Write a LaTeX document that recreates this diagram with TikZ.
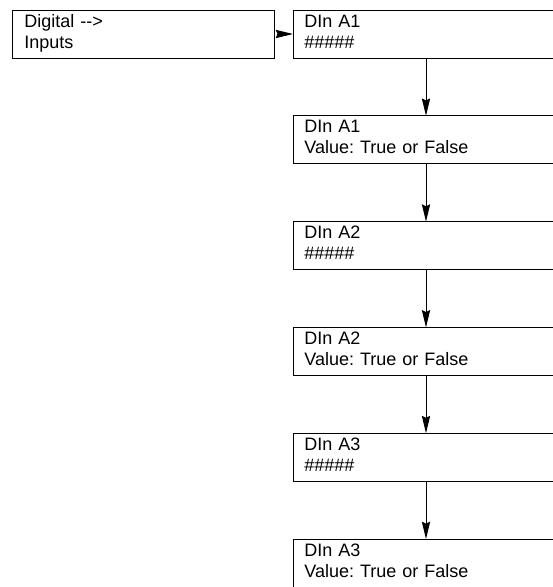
\documentclass[tikz,border=0pt]{standalone}
\usepackage{fontspec}
\setmainfont{Liberation Sans}
\usetikzlibrary{positioning, arrows.meta}
\frenchspacing

\tikzset{
        screen/.style={draw, rectangle, line width=0.75pt, align=left, outer sep=0pt,
                inner xsep=8.5pt, inner ysep=0pt, text width=178pt,
                text height=12.75pt, text depth=23.25pt,
                font=\fontsize{13.5pt}{15.75pt}\selectfont},
        wide/.style={text width=182.5pt},
        narrow/.style={minimum width=196.5pt}
}

\begin{document}
\begin{tikzpicture}[node distance=43.35pt, line width=0.75pt,
                >={Stealth[length=13pt, width=6.2pt, inset=1.5pt]}]
        \useasboundingbox (0,0) rectangle (414.75pt,-440.25pt);
        \node[screen, narrow, anchor=north west] (menu) at (9pt,-7.5pt) {Digital -{}-{}>\\Inputs};
        \node[screen, wide] (a1) [right=14.25pt of menu] {DIn A1\\\#\#\#\#\#};
        \node[screen, wide] (a1v) [below=of a1] {DIn A1\\Value: True or False};
        \node[screen, wide] (a2) [below=of a1v] {DIn A2\\\#\#\#\#\#};
        \node[screen, wide] (a2v) [below=of a2] {DIn A2\\Value: True or False};
        \node[screen, wide] (a3) [below=of a2v] {DIn A3\\\#\#\#\#\#};
        \node[screen, wide] (a3v) [below=of a3] {DIn A3\\Value: True or False};
        \path[->]
                (menu) edge [shorten <=2.5pt] (a1)
                (a1) edge (a1v)
                (a1v) edge (a2)
                (a2) edge (a2v)
                (a2v) edge (a3)
                (a3) edge (a3v);
\end{tikzpicture}
\end{document}
